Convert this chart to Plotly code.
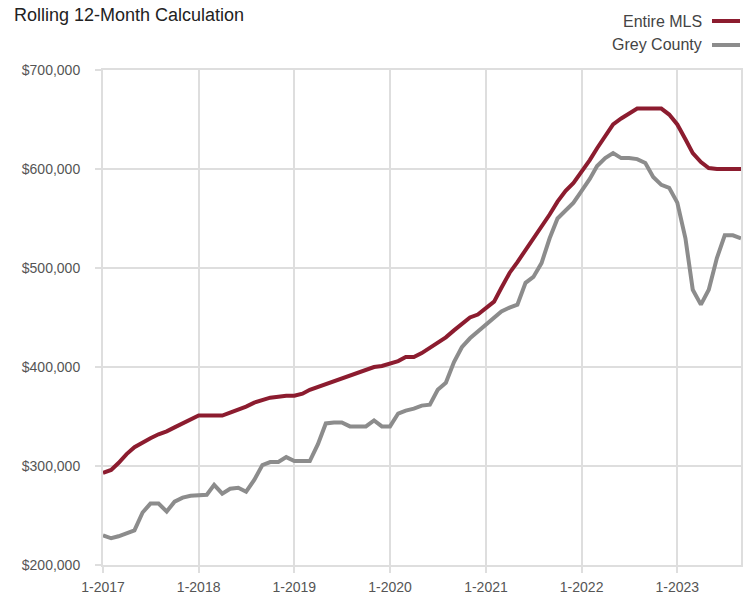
import pandas as pd
import plotly.graph_objects as go

# Monthly periods, January 2017 through September 2023
months = pd.date_range("2017-01-01", "2023-09-01", freq="MS")

# Rolling 12-month average price, in thousands of dollars
entire_mls = [
    293, 296, 303, 312, 319, 324, 328, 332, 335, 339, 343, 347,
    351, 351, 351, 351, 354, 357, 360, 364, 367, 369, 370, 371,
    371, 373, 377, 380, 383, 386, 388, 391, 394, 397, 400, 401,
    403, 406, 410, 410, 414, 419, 424, 430, 437, 444, 450, 453,
    459, 466, 480, 495, 506, 518, 529, 541, 554, 567, 578, 586,
    597, 609, 621, 634, 645, 651, 656, 661, 661, 661, 661, 655,
    645, 630, 616, 607, 601, 600, 600, 600, 600,
]
grey_county = [
    230, 227, 229, 232, 235, 253, 262, 262, 254, 264, 268, 270,
    271, 271, 281, 272, 277, 278, 274, 286, 301, 304, 304, 309,
    305, 305, 305, 322, 343, 344, 344, 340, 340, 340, 346, 340,
    340, 353, 356, 358, 361, 362, 377, 384, 405, 420, 429, 436,
    443, 450, 456, 460, 463, 485, 491, 505, 530, 550, 558, 566,
    578, 590, 603, 611, 616, 611, 611, 610, 606, 592, 584, 581,
    566, 530, 478, 463, 478, 510, 533, 533, 530,
]

series_names = ["Entire MLS", "Grey County"]
series_colors = ["#8c1c2f", "#8c8c8c"]

year_ticks = pd.date_range("2017-01-01", "2023-01-01", freq="YS")
year_labels = [f"1-{d.year}" for d in year_ticks]
price_ticks = [200000, 300000, 400000, 500000, 600000, 700000]
price_labels = [f"${v:,}" for v in price_ticks]

FONT = "Liberation Sans, Arial, sans-serif"
GRID = "#dedede"

W, H = 751, 598
ML, MR, MT, MB = 103, 10, 70, 33
PW, PH = W - ML - MR, H - MT - MB


def px_x(p):
    return (p - ML) / PW


def px_y(p):
    return (H - MB - p) / PH


fig = go.Figure()
# grey drawn first so the MLS line sits on top where they meet
for name, vals, color in [
    (series_names[1], grey_county, series_colors[1]),
    (series_names[0], entire_mls, series_colors[0]),
]:
    fig.add_trace(go.Scatter(
        x=months, y=[v * 1000 for v in vals], name=name, mode="lines",
        line=dict(color=color, width=4), showlegend=False,
    ))

# legend: label on the left, colour swatch on the right
for i, (name, color) in enumerate(zip(series_names, series_colors)):
    yc = px_y(21 + i * 24)
    fig.add_annotation(
        xref="paper", yref="paper", x=px_x(704), y=yc,
        xanchor="right", yanchor="middle", showarrow=False, text=name,
        font=dict(family=FONT, size=16, color="#444444"),
    )
    fig.add_shape(
        type="line", xref="paper", yref="paper",
        x0=px_x(712), x1=px_x(740), y0=yc, y1=yc,
        line=dict(color=color, width=4),
    )

fig.update_layout(
    width=W, height=H,
    margin=dict(l=ML, r=MR, t=MT, b=MB, autoexpand=False),
    paper_bgcolor="white", plot_bgcolor="white",
    title=dict(
        text="Rolling 12-Month Calculation", x=14 / W, xanchor="left",
        y=1 - 15 / H, yanchor="middle", yref="container",
        font=dict(family=FONT, size=18, color="#222222"),
    ),
    xaxis=dict(
        range=[months[0], months[-1]], automargin=False,
        tickvals=year_ticks, ticktext=year_labels,
        showgrid=True, gridcolor=GRID, gridwidth=2,
        showline=True, mirror=True, linecolor=GRID, linewidth=2,
        ticks="outside", ticklen=6, tickcolor=GRID, tickwidth=2,
        ticklabelstandoff=2,
        tickfont=dict(family=FONT, size=14, color="#555555"),
        zeroline=False,
    ),
    yaxis=dict(
        range=[200000, 700000], automargin=False,
        tickvals=price_ticks, ticktext=price_labels,
        showgrid=True, gridcolor=GRID, gridwidth=2,
        showline=True, mirror=True, linecolor=GRID, linewidth=2,
        ticks="outside", ticklen=6, tickcolor=GRID, tickwidth=2,
        ticklabelstandoff=12,
        tickfont=dict(family=FONT, size=14, color="#555555"),
        zeroline=False,
    ),
)

fig.write_html("out.html")
